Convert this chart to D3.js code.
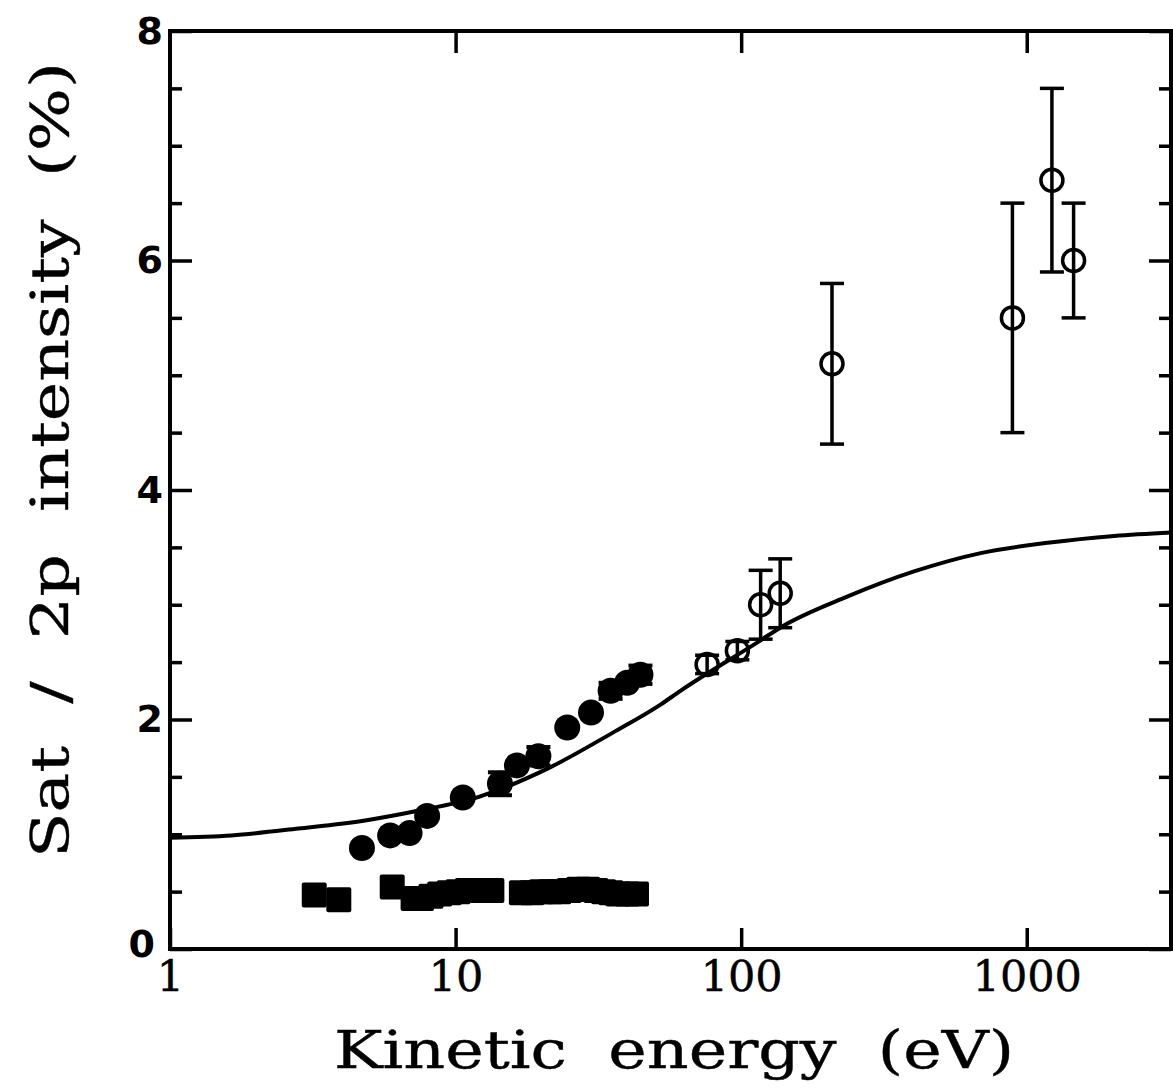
<!DOCTYPE html>
<html lang="en">
  <head>
    <meta charset="UTF-8" />
    <title>Sat / 2p intensity vs kinetic energy</title>
    <script src="https://cdn.jsdelivr.net/npm/d3@7/dist/d3.min.js"></script>
    <style>
      body { margin: 0; background: #fff; }
      .tick line { stroke: #000; stroke-width: 3.5px; }
      .ylab text { font-family: "DejaVu Sans", sans-serif; font-weight: bold; font-size: 38px; fill: #000; }
      .xlab text { font-family: "DejaVu Serif", serif; font-size: 43px; fill: #000; stroke: #000; stroke-width: 0.4px; }
      .title { font-family: "DejaVu Serif", serif; fill: #000; stroke: #000; stroke-width: 0.4px; }
    </style>
  </head>
  <body>
    <script>

      // solid curve (theory)
      var curveE = [1, 1.64, 2.82, 4.82, 7.23, 12.2, 20.9, 35.8, 52.2, 61.3, 117, 137, 235, 403, 690, 1183, 2024, 3200];
      var curveY = [0.97, 0.99, 1.05, 1.12, 1.2, 1.33, 1.57, 1.89, 2.13, 2.25, 2.69, 2.8, 3.07, 3.29, 3.45, 3.54, 3.6, 3.63];

      // filled circles, some with small error bars
      var dotE = [4.7, 5.9, 6.9, 7.95, 10.6, 14.3, 16.4, 19.5, 24.6, 29.8, 34.9, 39.9, 44.4];
      var dotY = [0.88, 0.99, 1.01, 1.16, 1.32, 1.44, 1.6, 1.68, 1.93, 2.06, 2.25, 2.32, 2.39];
      var dotErr = [0, 0, 0, 0, 0, 0.1, 0, 0.08, 0, 0, 0.07, 0, 0.08];

      // filled squares
      var sqE = [3.2, 3.9, 6.0, 7.1, 7.6, 8.2, 8.8, 9.5, 10.2, 11.0, 11.8, 12.7, 13.4, 17.0, 18.5, 20, 21.5, 23, 25, 27, 29, 31, 33, 35, 37, 40, 43];
      var sqY = [0.47, 0.43, 0.54, 0.44, 0.44, 0.46, 0.48, 0.49, 0.5, 0.51, 0.51, 0.51, 0.51, 0.49, 0.49, 0.5, 0.5, 0.5, 0.51, 0.52, 0.52, 0.51, 0.5, 0.49, 0.48, 0.48, 0.48];

      // open circles with error bars
      var openE = [76, 97, 117, 137, 208, 891, 1225, 1459];
      var openY = [2.48, 2.6, 3.0, 3.1, 5.1, 5.5, 6.7, 6.0];
      var openLo = [2.4, 2.52, 2.7, 2.8, 4.4, 4.5, 5.9, 5.5];
      var openHi = [2.56, 2.68, 3.3, 3.4, 5.8, 6.5, 7.5, 6.5];

      // ticks
      var xTicks = [1, 10, 100, 1000];
      var yTicks = [0, 2, 4, 6, 8];
      var yMinor = [0.5, 1, 1.5, 2.5, 3, 3.5, 4.5, 5, 5.5, 6.5, 7, 7.5];

      var w = 1173, h = 1088;
      var plotL = 170, plotR = 1171, plotT = 31, plotB = 949;

      var svg = d3.select("body").append("svg")
        .attr("width", w)
        .attr("height", h);

      var xScale = d3.scaleLog().domain([1, 3200]).range([plotL, plotR]);
      var yScale = d3.scaleLinear().domain([0, 8]).range([plotB, plotT]);

      // frame
      svg.append("rect")
        .attr("x", plotL).attr("y", plotT)
        .attr("width", plotR - plotL).attr("height", plotB - plotT)
        .attr("fill", "none").attr("stroke", "#000").attr("stroke-width", 4);

      // bottom axis with labels
      svg.append("g")
        .attr("class", "xlab")
        .attr("transform", "translate(0," + plotB + ")")
        .call(d3.axisBottom(xScale).tickValues(xTicks).tickFormat(d3.format("d"))
          .tickSizeInner(-21).tickSizeOuter(0).tickPadding(11))
        .call(function(g) { g.select(".domain").remove(); });

      // top axis
      svg.append("g")
        .attr("transform", "translate(0," + plotT + ")")
        .call(d3.axisTop(xScale).tickValues(xTicks.slice(1)).tickFormat("")
          .tickSizeInner(-22).tickSizeOuter(0))
        .call(function(g) { g.select(".domain").remove(); });

      // left axis, majors with labels
      svg.append("g")
        .attr("class", "ylab")
        .attr("transform", "translate(" + plotL + ",0)")
        .call(d3.axisLeft(yScale).tickValues(yTicks).tickFormat(d3.format("d"))
          .tickSizeInner(-22).tickSizeOuter(0).tickPadding(7))
        .call(function(g) { g.select(".domain").remove(); })
        // nudge the 0 away from the x label "1"
        .call(function(g) {
          g.selectAll(".tick text")
            .filter(function(d) { return d === 0; })
            .attr("x", -15)
            .attr("dy", "0.2em");
        });

      // left minor ticks
      svg.append("g")
        .attr("transform", "translate(" + plotL + ",0)")
        .call(d3.axisLeft(yScale).tickValues(yMinor).tickFormat("")
          .tickSizeInner(-12).tickSizeOuter(0))
        .call(function(g) { g.select(".domain").remove(); });

      // right axis, majors + minors
      svg.append("g")
        .attr("transform", "translate(" + plotR + ",0)")
        .call(d3.axisRight(yScale).tickValues(yTicks).tickFormat("")
          .tickSizeInner(-22).tickSizeOuter(0))
        .call(function(g) { g.select(".domain").remove(); });

      svg.append("g")
        .attr("transform", "translate(" + plotR + ",0)")
        .call(d3.axisRight(yScale).tickValues(yMinor).tickFormat("")
          .tickSizeInner(-12).tickSizeOuter(0))
        .call(function(g) { g.select(".domain").remove(); });

      // curve
      var line = d3.line()
        .x(function(d) { return xScale(d[0]); })
        .y(function(d) { return yScale(d[1]); })
        .curve(d3.curveMonotoneX);

      svg.append("path")
        .datum(d3.zip(curveE, curveY))
        .attr("d", line)
        .attr("fill", "none")
        .attr("stroke", "#000")
        .attr("stroke-width", 4);

      // squares
      var sq = 25;
      svg.selectAll("rect.sq")
        .data(d3.zip(sqE, sqY))
        .enter()
        .append("rect")
        .attr("class", "sq")
        .attr("x", function(d) { return xScale(d[0]) - sq / 2; })
        .attr("y", function(d) { return yScale(d[1]) - sq / 2; })
        .attr("width", sq).attr("height", sq)
        .attr("rx", 2)
        .attr("fill", "#000");

      // filled circle error bars
      var dots = d3.zip(dotE, dotY, dotErr);
      var dotBars = svg.selectAll("g.dotbar")
        .data(dots.filter(function(d) { return d[2] > 0; }))
        .enter()
        .append("g")
        .attr("class", "dotbar")
        .attr("stroke", "#000")
        .attr("stroke-width", 4);

      dotBars.append("line")
        .attr("x1", function(d) { return xScale(d[0]) - 12; })
        .attr("x2", function(d) { return xScale(d[0]) + 12; })
        .attr("y1", function(d) { return yScale(d[1] + d[2]); })
        .attr("y2", function(d) { return yScale(d[1] + d[2]); });

      dotBars.append("line")
        .attr("x1", function(d) { return xScale(d[0]) - 12; })
        .attr("x2", function(d) { return xScale(d[0]) + 12; })
        .attr("y1", function(d) { return yScale(d[1] - d[2]); })
        .attr("y2", function(d) { return yScale(d[1] - d[2]); });

      // filled circles
      svg.selectAll("circle.dot")
        .data(dots)
        .enter()
        .append("circle")
        .attr("class", "dot")
        .attr("cx", function(d) { return xScale(d[0]); })
        .attr("cy", function(d) { return yScale(d[1]); })
        .attr("r", 13)
        .attr("fill", "#000");

      // open circles with error bars
      var opens = d3.zip(openE, openY, openLo, openHi);
      var og = svg.selectAll("g.open")
        .data(opens)
        .enter()
        .append("g")
        .attr("class", "open")
        .attr("stroke", "#000")
        .attr("stroke-width", 3.5);

      og.append("line")
        .attr("x1", function(d) { return xScale(d[0]); })
        .attr("x2", function(d) { return xScale(d[0]); })
        .attr("y1", function(d) { return yScale(d[2]); })
        .attr("y2", function(d) { return yScale(d[3]); });

      og.append("line")
        .attr("x1", function(d) { return xScale(d[0]) - 12; })
        .attr("x2", function(d) { return xScale(d[0]) + 12; })
        .attr("y1", function(d) { return yScale(d[2]); })
        .attr("y2", function(d) { return yScale(d[2]); });

      og.append("line")
        .attr("x1", function(d) { return xScale(d[0]) - 12; })
        .attr("x2", function(d) { return xScale(d[0]) + 12; })
        .attr("y1", function(d) { return yScale(d[3]); })
        .attr("y2", function(d) { return yScale(d[3]); });

      og.append("circle")
        .attr("cx", function(d) { return xScale(d[0]); })
        .attr("cy", function(d) { return yScale(d[1]); })
        .attr("r", 11)
        .attr("fill", "none");

      // axis titles
      svg.append("text")
        .attr("class", "title")
        .attr("x", 334)
        .attr("y", 1068)
        .attr("font-size", 52)
        .attr("textLength", 680)
        .attr("lengthAdjust", "spacingAndGlyphs")
        .attr("xml:space", "preserve")
        .text("Kinetic  energy  (eV)");

      svg.append("text")
        .attr("class", "title")
        .attr("transform", "translate(68,858) rotate(-90)")
        .attr("font-size", 52)
        .attr("textLength", 796)
        .attr("lengthAdjust", "spacingAndGlyphs")
        .attr("xml:space", "preserve")
        .text("Sat  /  2p  intensity  (%)");

    </script>
  </body>
</html>
